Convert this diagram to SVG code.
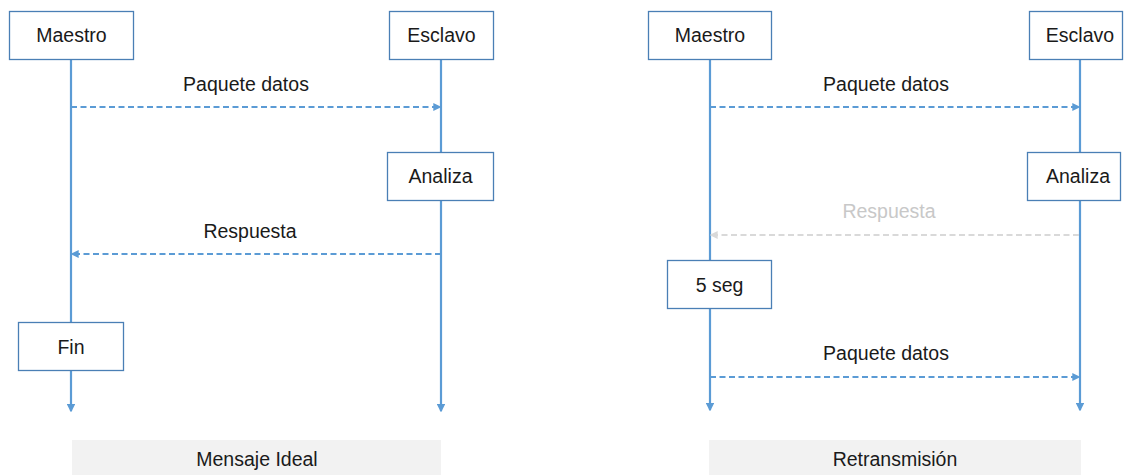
<svg xmlns="http://www.w3.org/2000/svg" width="1127" height="475" viewBox="0 0 1127 475">
  <style>
    .box { fill: #ffffff; stroke: #4a7fb5; stroke-width: 1.3; }
    .lbl { font-family: "Liberation Sans", Arial, sans-serif; font-size: 19.5px; fill: #1a1a1a; text-anchor: middle; }
    .life { stroke: #5b9bd5; stroke-width: 2.2; fill: none; }
    .msg { stroke: #5b9bd5; stroke-width: 2; stroke-dasharray: 6 3.5; fill: none; }
    .lost { stroke: #d9d9d9; stroke-width: 2; stroke-dasharray: 6 3.5; fill: none; }
    .lostlbl { fill: #c8c8c8; }
    .band { fill: #f2f2f2; }
  </style>
  <defs>
    <marker id="head" viewBox="0 0 6 6" refX="5" refY="3" markerWidth="4" markerHeight="4" orient="auto" markerUnits="strokeWidth">
      <path d="M0,0 L6,3 L0,6 Z" fill="#5b9bd5"/>
    </marker>
    <marker id="headGrey" viewBox="0 0 6 6" refX="5" refY="3" markerWidth="4" markerHeight="4" orient="auto" markerUnits="strokeWidth">
      <path d="M0,0 L6,3 L0,6 Z" fill="#d9d9d9"/>
    </marker>
  </defs>

  <!-- connectors: lifelines and messages -->
  <g id="connectors">
    <line class="life" x1="71" y1="59" x2="71" y2="411" marker-end="url(#head)"/>
    <line class="life" x1="441" y1="59" x2="441" y2="411" marker-end="url(#head)"/>
    <line class="msg" x1="71" y1="107" x2="440" y2="107" marker-end="url(#head)"/>
    <line class="msg" x1="441" y1="254" x2="72" y2="254" marker-end="url(#head)"/>

    <line class="life" x1="710" y1="59" x2="710" y2="410" marker-end="url(#head)"/>
    <line class="life" x1="1080" y1="59" x2="1080" y2="410" marker-end="url(#head)"/>
    <line class="msg" x1="710" y1="107" x2="1079" y2="107" marker-end="url(#head)"/>
    <line class="lost" x1="1079" y1="235" x2="711" y2="235" marker-end="url(#headGrey)"/>
    <line class="msg" x1="710" y1="377" x2="1079" y2="377" marker-end="url(#head)"/>
  </g>

  <!-- message labels -->
  <g id="labels">
    <text class="lbl" x="246" y="91">Paquete datos</text>
    <text class="lbl" x="250" y="238">Respuesta</text>
    <text class="lbl" x="886" y="91">Paquete datos</text>
    <text class="lbl lostlbl" x="889" y="218">Respuesta</text>
    <text class="lbl" x="886" y="360">Paquete datos</text>
  </g>

  <!-- left scenario -->
  <g id="maestro-1">
    <rect class="box" x="9.5" y="11.5" width="124" height="48"/>
    <text class="lbl" x="71.5" y="42">Maestro</text>
  </g>
  <g id="esclavo-1">
    <rect class="box" x="389.5" y="11.5" width="104" height="48"/>
    <text class="lbl" x="441.5" y="42">Esclavo</text>
  </g>
  <g id="analiza-1">
    <rect class="box" x="387.5" y="152.5" width="106" height="48"/>
    <text class="lbl" x="440.5" y="183">Analiza</text>
  </g>
  <g id="fin">
    <rect class="box" x="18.5" y="322.5" width="105" height="48"/>
    <text class="lbl" x="71" y="354">Fin</text>
  </g>
  <g id="caption-1">
    <rect class="band" x="72" y="440" width="369" height="35"/>
    <text class="lbl" x="257" y="466">Mensaje Ideal</text>
  </g>

  <!-- right scenario -->
  <g id="maestro-2">
    <rect class="box" x="648.5" y="11.5" width="123" height="48"/>
    <text class="lbl" x="710" y="42">Maestro</text>
  </g>
  <g id="esclavo-2">
    <rect class="box" x="1029.5" y="11.5" width="93" height="48"/>
    <text class="lbl" x="1080" y="42">Esclavo</text>
  </g>
  <g id="analiza-2">
    <rect class="box" x="1027.5" y="152.5" width="93" height="48"/>
    <text class="lbl" x="1078" y="183">Analiza</text>
  </g>
  <g id="espera">
    <rect class="box" x="667.5" y="260.5" width="104" height="48"/>
    <text class="lbl" x="719.5" y="292">5 seg</text>
  </g>
  <g id="caption-2">
    <rect class="band" x="709" y="440" width="372" height="35"/>
    <text class="lbl" x="895" y="466">Retransmisión</text>
  </g>
</svg>
